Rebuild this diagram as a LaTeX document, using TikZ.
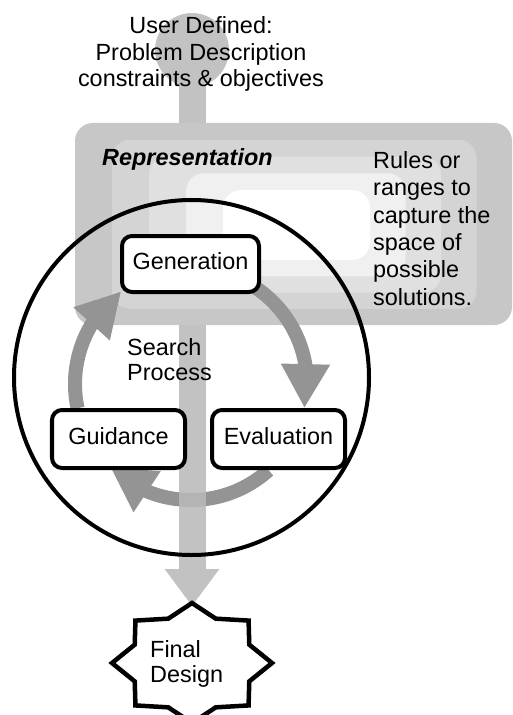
\documentclass[tikz,border=0pt]{standalone}
\usepackage{fontspec}
\setmainfont{Liberation Sans}
\usetikzlibrary{arrows.meta,bending}

\begin{document}
\begin{tikzpicture}[x=1bp,y=1bp,
  txt/.style={inner sep=0pt, font=\fontsize{23.5}{27}\selectfont},
  stage/.style={draw=black, line width=4bp, rounded corners=10bp, fill=white,
    inner sep=0pt, text height=16bp, text depth=6bp,
    font=\fontsize{23.5}{27}\selectfont},
  cyc/.style={draw=black!42, line width=14bp,
    -{Triangle[flex, length=44bp, width=46bp]}},
  flow/.style={draw=black!24, line width=27bp,
    -{Triangle[length=37bp, width=52bp]}},
  band/.style={rounded corners=18bp},
]
\useasboundingbox (0,0) rectangle (513,-715);
\clip (0,0) rectangle (513,-715);

% input blob and the main flow down to the final design
\node[circle, fill=black!24, minimum size=74bp, inner sep=0pt] (src) at (192,-50) {};
\coordinate (tgt) at (192,-606);
\draw[flow] (src.center) -- (tgt);

% representation panel, lighter towards its middle
\foreach \i/\c in {0/22,1/17,2/12,3/6,4/0}
  \fill[band, black!\c] (75+37*\i,-123-16.75*\i) rectangle (512-35.5*\i,-325+16.25*\i);

% search process loop
\coordinate (cc) at (191,-384);
\draw[cyc] ([shift={(60:116)}]cc) arc[start angle=60, end angle=-12, radius=116];
\draw[cyc] ([shift={(-48:116)}]cc) arc[start angle=-48, end angle=-134, radius=116];
\draw[cyc] ([shift={(192:116)}]cc) arc[start angle=192, end angle=127, radius=116];

% flow passes over the loop below the panel
\coordinate (panelbot) at (192,-325);
\draw[flow, opacity=0.7] (panelbot) -- (tgt);

\node[circle, draw=black, line width=4bp, minimum size=355bp, inner sep=0pt] (search) at (191.5,-377.5) {};

\node[stage, minimum width=137bp, minimum height=56bp] (gen) at (190.5,-264) {Generation};
\node[stage, minimum width=133bp, minimum height=58bp] (guid) at (118.5,-439) {Guidance};
\node[stage, minimum width=133bp, minimum height=58bp] (eval) at (278.5,-439) {Evaluation};

% final design star
\begin{scope}[shift={(192,-663)}]
  \draw[line width=4.5bp, fill=white, line join=miter] (0:80 and 60)
    \foreach \a in {0,45,...,270} { -- (\a+22.5:62 and 48) -- (\a+45:80 and 60) }
    -- (337.5:62 and 48) -- cycle;
\end{scope}

% labels (multi-line nodes sit on the baseline of their last line)
\node[txt, align=center, anchor=base] (user) at (201,-87)
  {User Defined:\\Problem Description\\constraints \& objectives};
\node[txt, font=\fontsize{23.5}{27}\selectfont\bfseries\itshape, anchor=base west] (rep) at (102,-165) {Representation};
\node[txt, font=\fontsize{23.5}{27.4}\selectfont, align=left, anchor=base west] (rules) at (373,-305)
  {Rules or\\ranges to\\capture the\\space of\\possible\\solutions.};
\node[txt, font=\fontsize{23.5}{25}\selectfont, align=left, anchor=base west] (sp) at (127,-380)
  {Search\\Process};
\node[txt, font=\fontsize{23.5}{25}\selectfont, align=left, anchor=base west] (final) at (150,-682)
  {Final\\Design};
\end{tikzpicture}
\end{document}
